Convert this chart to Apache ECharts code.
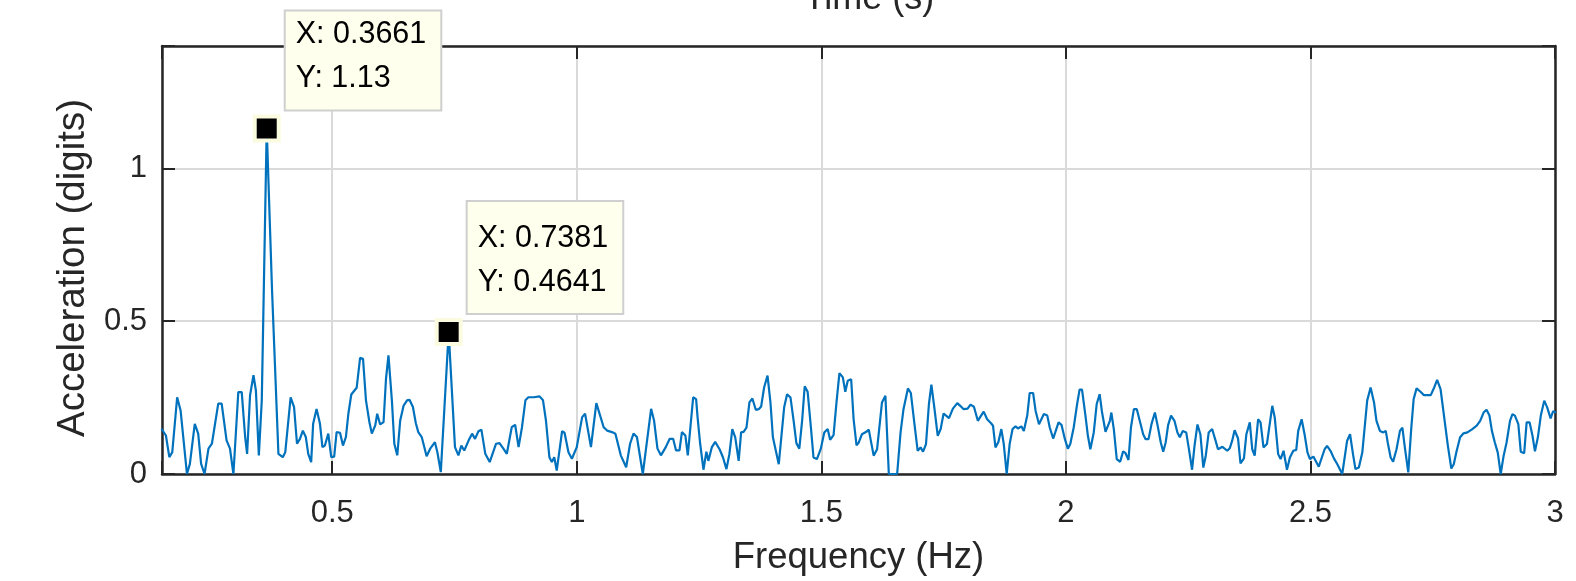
<!DOCTYPE html>
<html>
<head>
<meta charset="utf-8">
<title>Spectrum</title>
<script src="https://cdn.jsdelivr.net/npm/echarts@6/dist/echarts.min.js"></script>
<style>
  html, body { margin: 0; padding: 0; background: #fff; }
  #main { width: 1576px; height: 581px; }
</style>
</head>
<body>
<div id="main"></div>
<script>
// frequency (Hz) of each vertex of the spectrum line
const freq = [
  0.151, 0.160, 0.167, 0.173, 0.183, 0.190, 0.203, 0.209, 0.219, 0.226, 0.232, 0.239, 0.247, 0.254, 0.267,
  0.274, 0.284, 0.291, 0.298, 0.308, 0.315, 0.322, 0.326, 0.332, 0.339, 0.344, 0.350, 0.356, 0.3661, 0.377,
  0.390, 0.399, 0.404, 0.415, 0.422, 0.428, 0.434, 0.440, 0.446, 0.451, 0.457, 0.461, 0.468, 0.475, 0.480,
  0.485, 0.492, 0.498, 0.504, 0.509, 0.516, 0.522, 0.528, 0.533, 0.539, 0.543, 0.550, 0.557, 0.563, 0.569,
  0.576, 0.581, 0.588, 0.592, 0.598, 0.605, 0.610, 0.615, 0.622, 0.627, 0.633, 0.639, 0.646, 0.653, 0.658,
  0.665, 0.671, 0.676, 0.683, 0.693, 0.700, 0.710, 0.715, 0.722, 0.7381, 0.751, 0.758, 0.764, 0.770, 0.779,
  0.786, 0.792, 0.799, 0.805, 0.813, 0.822, 0.835, 0.842, 0.850, 0.857, 0.867, 0.874, 0.881, 0.888, 0.895,
  0.901, 0.912, 0.924, 0.931, 0.937, 0.944, 0.949, 0.954, 0.959, 0.970, 0.975, 0.983, 0.990, 1.000, 1.011,
  1.017, 1.029, 1.040, 1.055, 1.062, 1.072, 1.079, 1.090, 1.101, 1.109, 1.116, 1.123, 1.135, 1.142, 1.152,
  1.158, 1.165, 1.172, 1.182, 1.190, 1.197, 1.203, 1.210, 1.215, 1.222, 1.227, 1.238, 1.244, 1.247, 1.252,
  1.259, 1.265, 1.269, 1.276, 1.283, 1.292, 1.299, 1.306, 1.312, 1.318, 1.324, 1.331, 1.336, 1.341, 1.347,
  1.353, 1.359, 1.366, 1.372, 1.377, 1.383, 1.390, 1.396, 1.401, 1.413, 1.424, 1.430, 1.437, 1.443, 1.449,
  1.455, 1.461, 1.466, 1.472, 1.479, 1.484, 1.491, 1.499, 1.506, 1.513, 1.518, 1.525, 1.531, 1.537, 1.544,
  1.549, 1.554, 1.561, 1.566, 1.572, 1.576, 1.583, 1.592, 1.597, 1.607, 1.614, 1.624, 1.631, 1.638, 1.655,
  1.662, 1.668, 1.677, 1.683, 1.690, 1.697, 1.703, 1.708, 1.714, 1.720, 1.725, 1.731, 1.738, 1.744, 1.750,
  1.761, 1.769, 1.778, 1.784, 1.791, 1.799, 1.805, 1.812, 1.820, 1.825, 1.832, 1.839, 1.847, 1.851, 1.856,
  1.862, 1.868, 1.873, 1.879, 1.885, 1.891, 1.897, 1.902, 1.909, 1.914, 1.921, 1.926, 1.933, 1.938, 1.945,
  1.955, 1.962, 1.967, 1.974, 1.985, 1.991, 1.998, 2.004, 2.009, 2.016, 2.023, 2.028, 2.033, 2.040, 2.045,
  2.050, 2.057, 2.063, 2.069, 2.074, 2.081, 2.090, 2.093, 2.098, 2.104, 2.111, 2.117, 2.122, 2.128, 2.133,
  2.139, 2.145, 2.151, 2.158, 2.163, 2.169, 2.175, 2.182, 2.187, 2.194, 2.199, 2.204, 2.209, 2.215, 2.222,
  2.228, 2.233, 2.239, 2.246, 2.251, 2.258, 2.263, 2.269, 2.275, 2.281, 2.286, 2.292, 2.299, 2.306, 2.311,
  2.320, 2.324, 2.330, 2.335, 2.340, 2.345, 2.352, 2.357, 2.364, 2.369, 2.376, 2.381, 2.386, 2.393, 2.398,
  2.404, 2.411, 2.422, 2.427, 2.434, 2.439, 2.445, 2.452, 2.458, 2.465, 2.471, 2.475, 2.482, 2.488, 2.494,
  2.499, 2.506, 2.517, 2.529, 2.534, 2.541, 2.548, 2.555, 2.565, 2.575, 2.581, 2.587, 2.592, 2.599, 2.606,
  2.616, 2.623, 2.630, 2.635, 2.642, 2.649, 2.654, 2.658, 2.664, 2.669, 2.676, 2.683, 2.688, 2.693, 2.700,
  2.706, 2.711, 2.717, 2.725, 2.732, 2.746, 2.753, 2.759, 2.766, 2.773, 2.781, 2.788, 2.793, 2.799, 2.806,
  2.813, 2.821, 2.831, 2.840, 2.847, 2.854, 2.860, 2.866, 2.871, 2.877, 2.883, 2.889, 2.895, 2.901, 2.908,
  2.913, 2.918, 2.925, 2.930, 2.937, 2.942, 2.948, 2.954, 2.959, 2.965, 2.971, 2.978, 2.984, 2.991, 2.996,
  3.002
];
// acceleration amplitude (digits) at each vertex
const accel = [
  0.148, 0.126, 0.055, 0.071, 0.251, 0.208, 0.000, 0.033, 0.164, 0.132, 0.033, 0.000, 0.083, 0.099, 0.230,
  0.230, 0.110, 0.083, 0.000, 0.268, 0.268, 0.121, 0.066, 0.257, 0.323, 0.273, 0.061, 0.241, 1.13, 0.600,
  0.066, 0.055, 0.071, 0.251, 0.219, 0.099, 0.115, 0.142, 0.121, 0.066, 0.039, 0.164, 0.213, 0.164, 0.088,
  0.093, 0.132, 0.055, 0.057, 0.137, 0.135, 0.093, 0.121, 0.197, 0.260, 0.254, 0.282, 0.380, 0.377, 0.241,
  0.170, 0.132, 0.159, 0.197, 0.162, 0.170, 0.312, 0.388, 0.241, 0.099, 0.061, 0.175, 0.224, 0.241, 0.243,
  0.219, 0.166, 0.137, 0.121, 0.058, 0.082, 0.104, 0.071, 0.006, 0.4641, 0.088, 0.061, 0.093, 0.077, 0.110,
  0.132, 0.115, 0.140, 0.145, 0.066, 0.039, 0.099, 0.101, 0.083, 0.066, 0.153, 0.161, 0.088, 0.153, 0.241,
  0.251, 0.251, 0.254, 0.241, 0.175, 0.055, 0.039, 0.055, 0.011, 0.140, 0.135, 0.071, 0.050, 0.088, 0.186,
  0.197, 0.088, 0.232, 0.153, 0.142, 0.137, 0.132, 0.061, 0.022, 0.099, 0.132, 0.121, 0.000, 0.088, 0.213,
  0.175, 0.083, 0.061, 0.088, 0.115, 0.115, 0.077, 0.077, 0.137, 0.126, 0.061, 0.251, 0.245, 0.185, 0.103,
  0.014, 0.073, 0.043, 0.087, 0.105, 0.081, 0.054, 0.016, 0.065, 0.147, 0.120, 0.043, 0.136, 0.138, 0.152,
  0.234, 0.247, 0.210, 0.212, 0.221, 0.283, 0.322, 0.234, 0.120, 0.032, 0.218, 0.261, 0.250, 0.179, 0.101,
  0.083, 0.179, 0.287, 0.269, 0.147, 0.054, 0.049, 0.083, 0.136, 0.147, 0.112, 0.127, 0.234, 0.330, 0.316,
  0.269, 0.305, 0.310, 0.179, 0.094, 0.101, 0.130, 0.138, 0.145, 0.060, 0.081, 0.234, 0.256, 0.000, 0.000,
  0.136, 0.212, 0.280, 0.265, 0.169, 0.076, 0.087, 0.073, 0.098, 0.229, 0.292, 0.218, 0.125, 0.147, 0.198,
  0.183, 0.214, 0.232, 0.223, 0.212, 0.214, 0.227, 0.220, 0.174, 0.187, 0.204, 0.179, 0.166, 0.158, 0.087,
  0.105, 0.147, 0.098, 0.000, 0.098, 0.147, 0.156, 0.149, 0.156, 0.141, 0.191, 0.265, 0.265, 0.207, 0.163,
  0.196, 0.191, 0.152, 0.116, 0.169, 0.161, 0.114, 0.083, 0.098, 0.152, 0.229, 0.276, 0.276, 0.191, 0.125,
  0.081, 0.136, 0.229, 0.261, 0.201, 0.138, 0.174, 0.201, 0.147, 0.049, 0.040, 0.074, 0.068, 0.046, 0.152,
  0.212, 0.212, 0.174, 0.130, 0.114, 0.114, 0.163, 0.201, 0.163, 0.103, 0.073, 0.103, 0.160, 0.191, 0.174,
  0.136, 0.120, 0.141, 0.136, 0.087, 0.014, 0.092, 0.162, 0.130, 0.021, 0.060, 0.136, 0.147, 0.109, 0.081,
  0.089, 0.092, 0.076, 0.084, 0.109, 0.143, 0.116, 0.035, 0.051, 0.130, 0.169, 0.081, 0.060, 0.179, 0.169,
  0.087, 0.098, 0.223, 0.185, 0.065, 0.049, 0.076, 0.014, 0.054, 0.076, 0.079, 0.141, 0.179, 0.130, 0.070,
  0.049, 0.057, 0.024, 0.081, 0.092, 0.076, 0.051, 0.032, 0.000, 0.109, 0.130, 0.065, 0.016, 0.021, 0.070,
  0.240, 0.283, 0.234, 0.174, 0.141, 0.136, 0.141, 0.103, 0.054, 0.040, 0.081, 0.141, 0.152, 0.087, 0.005,
  0.147, 0.245, 0.280, 0.269, 0.258, 0.258, 0.283, 0.308, 0.278, 0.191, 0.092, 0.018, 0.032, 0.076, 0.120,
  0.133, 0.136, 0.147, 0.158, 0.174, 0.201, 0.210, 0.191, 0.141, 0.103, 0.070, 0.000, 0.060, 0.103, 0.174,
  0.196, 0.191, 0.163, 0.073, 0.068, 0.169, 0.169, 0.125, 0.074, 0.120, 0.191, 0.240, 0.218, 0.182, 0.205,
  0.201
];

// data tips
const tipFreq = [0.3661, 0.7381];
const tipAccel = [1.13, 0.4641];

const xTickLabels = [0.5, 1, 1.5, 2, 2.5, 3];
const yTickLabels = [0, 0.5, 1];

const font = "'Liberation Sans', Arial, Helvetica, sans-serif";
const ink = '#262626';

let chart = echarts.init(document.getElementById('main'));

const lineData = freq.map((f, i) => [f, accel[i]]);
const tipData = tipFreq.map((f, i) => ({
  value: [f, tipAccel[i]],
  label: { padding: i === 0 ? [1, 14, 9, 10] : [14, 14, 9, 10] }
}));

const boxAxis = {
  axisLine: { show: true, onZero: false, lineStyle: { color: ink, width: 2.5 } },
  axisTick: { show: true, inside: true, length: 13, lineStyle: { color: ink, width: 2 } }
};

let option = {
  animation: false,
  backgroundColor: '#ffffff',
  textStyle: { fontFamily: font },
  grid: { left: 162, right: 21, top: 46, bottom: 107, containLabel: false },
  graphic: [{
    type: 'text',
    style: { x: 869, y: 17, text: 'Time (s)', font: '36px ' + font, fill: ink, textAlign: 'center', textVerticalAlign: 'bottom' }
  }],
  xAxis: [{
    type: 'value',
    min: 0.152,
    max: 3,
    position: 'bottom',
    name: 'Frequency (Hz)',
    nameLocation: 'middle',
    nameGap: 65,
    nameTextStyle: { color: ink, fontSize: 36.5, fontFamily: font },
    ...boxAxis,
    axisLabel: {
      color: ink, fontSize: 31, fontFamily: font, margin: 24,
      formatter: v => xTickLabels.some(t => Math.abs(t - v) < 1e-6) ? String(v) : ''
    },
    splitLine: { show: true, lineStyle: { color: '#dadada', width: 2 } }
  }, {
    type: 'value',
    min: 0.152,
    max: 3,
    position: 'top',
    ...boxAxis,
    axisLabel: { show: false },
    splitLine: { show: false }
  }],
  yAxis: [{
    type: 'value',
    min: 0,
    max: 1.4,
    interval: 0.5,
    position: 'left',
    name: 'Acceleration (digits)',
    nameLocation: 'middle',
    nameGap: 68,
    nameTextStyle: { color: ink, fontSize: 38.5, fontFamily: font, padding: [0, 16, 0, 0] },
    ...boxAxis,
    axisLabel: {
      color: ink, fontSize: 31, fontFamily: font, margin: 15,
      formatter: v => yTickLabels.some(t => Math.abs(t - v) < 1e-6) ? String(v) : ''
    },
    splitLine: { show: true, lineStyle: { color: '#dadada', width: 2 } }
  }, {
    type: 'value',
    min: 0,
    max: 1.4,
    interval: 0.5,
    position: 'right',
    ...boxAxis,
    axisLabel: { show: false },
    splitLine: { show: false }
  }],
  series: [{
    type: 'line',
    data: lineData,
    showSymbol: false,
    symbol: 'none',
    clip: true,
    lineStyle: { color: '#0072BD', width: 2.2 },
    z: 2
  }, {
    type: 'scatter',
    data: tipData,
    symbol: 'rect',
    symbolSize: 24,
    itemStyle: { color: '#000000', borderColor: '#fbfbe0', borderWidth: 4, opacity: 1 },
    label: {
      show: true,
      position: [33, -5],
      align: 'left',
      verticalAlign: 'bottom',
      formatter: p => 'X: ' + p.value[0] + '\nY: ' + p.value[1],
      color: '#000000',
      fontSize: 30.5,
      fontFamily: font,
      lineHeight: 44,
      backgroundColor: '#ffffee',
      borderColor: '#cfcfcf',
      borderWidth: 2
    },
    z: 5
  }]
};

chart.setOption(option);
</script>
</body>
</html>
